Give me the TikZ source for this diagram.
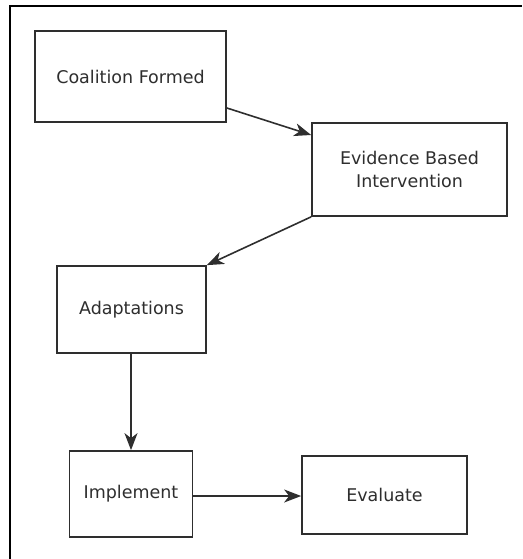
\documentclass[tikz,border=0pt]{standalone}
\usepackage{fontspec}
\setmainfont{DejaVu Sans}
\usetikzlibrary{arrows.meta}
\definecolor{ink}{HTML}{2E2E2E}
\begin{document}
\begin{tikzpicture}[x=1pt,y=-1pt,
  stepbox/.style={draw=ink,line width=1.7pt,fill=white,inner sep=0pt,
    text=ink,font=\fontsize{17.5}{23}\selectfont,align=center},
  link/.style={draw=ink,line width=1.6pt,
    -{Stealth[length=17pt,width=13pt,inset=5pt]}}]
  \useasboundingbox (0,0) rectangle (522,559);
  % outer frame (only its top and left sides fall inside the page)
  \draw[line width=2pt,black] (10,559) -- (10,6) -- (522,6);
  % steps
  \node[stepbox,minimum width=191pt,minimum height=91pt] (coal) at (130.5,76.5) {Coalition Formed};
  \node[stepbox,minimum width=195pt,minimum height=93pt] (ebi) at (409.5,169.5) {Evidence Based\\Intervention};
  \node[stepbox,minimum width=149pt,minimum height=87pt] (adapt) at (131.5,309.5) {Adaptations};
  \node[stepbox,minimum width=123pt,minimum height=86pt] (impl) at (131,494) {Implement};
  \node[stepbox,minimum width=165pt,minimum height=78pt] (eval) at (384.5,495) {Evaluate};
  % flow
  \draw[link] (coal.east |- 0,108) -- (ebi.west |- 0,135);
  \draw[link] (ebi.south west) -- (adapt.north east);
  \draw[link] (adapt.south -| impl.north) -- (impl.north);
  \draw[link] (impl.east |- 0,496) -- (eval.west |- 0,496);
\end{tikzpicture}
\end{document}
